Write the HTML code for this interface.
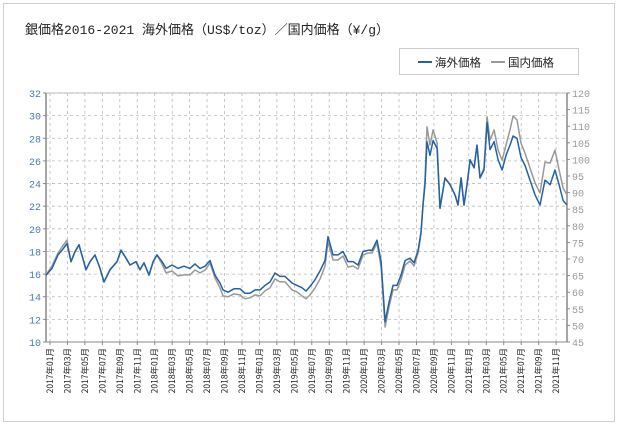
<!DOCTYPE html>
<html><head><meta charset="utf-8">
<style>
html,body{margin:0;padding:0;background:#fff;}
svg{display:block;font-family:"Liberation Mono","Noto Sans CJK JP",monospace;}
</style></head>
<body>
<svg id="chart" width="619" height="426" viewBox="0 0 619 426" xmlns="http://www.w3.org/2000/svg">
<rect x="3.5" y="3.5" width="611" height="418" fill="#fff" stroke="#cfcfcf"/>
<text x="25" y="34" font-size="13" fill="#222" font-family="'Liberation Mono','Noto Sans CJK JP',monospace">銀価格2016-2021 海外価格（US$/toz）／国内価格（¥/g）</text>
<g>
<rect x="399.5" y="48.5" width="179" height="26" fill="#fff" stroke="#ccc"/>
<g>
<line x1="418" y1="62" x2="432" y2="62" stroke="#2462a4" stroke-width="2"/>
<text x="435" y="66.5" font-size="11.5" fill="#222" font-family="'Noto Sans CJK JP',sans-serif">海外価格</text>
</g>
<g>
<line x1="491" y1="62" x2="505" y2="62" stroke="#999" stroke-width="2"/>
<text x="508" y="66.5" font-size="11.5" fill="#222" font-family="'Noto Sans CJK JP',sans-serif">国内価格</text>
</g>
</g>
<g id="grid"></g>
<g id="axes"></g>
<g id="series"></g>
</svg>
<script>
const months=[-0.46,0.23,0.92,1.38,1.95,2.41,2.87,3.32,4.13,4.58,5.16,5.73,6.19,6.88,7.68,8.14,8.71,9.17,9.86,10.32,10.77,11.35,11.81,12.26,12.84,13.3,13.98,14.67,15.36,16.05,16.62,17.19,17.77,18.34,18.91,19.48,19.83,20.4,21.09,21.78,22.35,22.92,23.5,24.07,24.64,25.21,25.79,26.36,26.93,27.74,28.31,28.88,29.34,29.8,30.37,30.95,31.52,31.86,32.44,33.01,33.58,34.15,34.73,35.3,35.87,36.45,36.91,37.48,37.94,38.4,38.85,39.31,39.77,40.23,40.69,41.26,41.72,42.18,42.52,42.75,42.98,43.21,43.55,43.9,44.36,44.7,45.27,45.85,46.42,46.76,47.11,47.45,47.79,48.14,48.6,48.94,49.28,49.74,50.09,50.43,50.89,51.35,51.81,52.26,52.72,53.07,53.52,53.98,54.44,55.01,55.59,56.16,56.73,57.31,57.88,58.34,58.8,59.25];
const overseas=[15.9,16.5,17.7,18.1,18.7,17.1,18.0,18.6,16.4,17.1,17.7,16.5,15.3,16.4,17.1,18.1,17.4,16.8,17.1,16.4,17.0,15.9,17.1,17.7,17.1,16.5,16.8,16.5,16.7,16.5,16.9,16.5,16.7,17.2,15.9,15.2,14.6,14.4,14.7,14.7,14.3,14.3,14.6,14.6,15.0,15.3,16.1,15.8,15.8,15.2,15.0,14.8,14.5,14.9,15.5,16.3,17.2,19.3,17.7,17.7,18.0,17.1,17.1,16.8,18.0,18.1,18.1,19.0,17.1,11.8,13.5,15.0,15.0,15.9,17.2,17.4,17.0,18.1,19.7,22.1,23.9,27.7,26.5,27.8,27.1,21.8,24.5,23.9,23.0,22.1,24.5,22.1,23.9,26.1,25.4,27.4,24.5,25.2,29.4,27.0,27.7,26.1,25.2,26.5,27.4,28.2,28.0,26.3,25.6,24.3,23.0,22.1,24.3,23.9,25.2,23.9,22.5,22.1];
const domestic=[65.2,67.9,71.8,73.6,75.7,69.1,72.1,74.2,66.7,69.1,71.2,67.3,63.1,66.7,69.1,72.7,70.3,68.2,69.1,66.7,68.8,65.2,69.1,71.2,68.5,65.8,66.4,64.9,65.2,65.2,66.7,65.8,66.7,68.8,64.3,61.3,58.9,58.6,59.5,59.2,58.0,58.3,59.2,58.9,60.4,61.3,64.0,63.1,63.1,60.7,60.1,58.9,58.0,59.2,61.3,64.0,67.9,75.1,69.7,69.7,70.9,67.6,67.9,67.0,71.2,71.8,71.8,74.8,67.6,49.5,55.5,60.7,60.7,63.7,68.2,69.4,67.9,71.8,77.5,86.3,93.8,109.8,104.3,108.9,104.9,85.4,94.4,92.3,89.3,86.3,94.4,86.3,92.3,99.8,97.4,104.3,94.4,97.4,112.8,105.8,108.9,102.8,99.8,104.3,108.9,113.1,111.9,104.9,101.9,97.4,92.9,89.9,99.2,98.9,102.8,96.8,91.4,89.3];
const xTickLabels=["2017年01月","2017年03月","2017年05月","2017年07月","2017年09月","2017年11月","2018年01月","2018年03月","2018年05月","2018年07月","2018年09月","2018年11月","2019年01月","2019年03月","2019年05月","2019年07月","2019年09月","2019年11月","2020年01月","2020年03月","2020年05月","2020年07月","2020年09月","2020年11月","2021年01月","2021年03月","2021年05月","2021年07月","2021年09月","2021年11月"];
const leftTicks=[10,12,14,16,18,20,22,24,26,28,30,32];
const rightTicks=[45,50,55,60,65,70,75,80,85,90,95,100,105,110,115,120];

const NS="http://www.w3.org/2000/svg";
const X0=46,X1=567,Y0=342,Y1=93;
const tMax=59.25;
function xScale(t){return 50+t*(X1-50)/(tMax);}
function yL(v){return Y0-(v-10)*(Y0-Y1)/22;}
function yR(v){return Y0-(v-45)*(Y0-Y1)/75;}
function mk(tag,attrs,parent){const e=document.createElementNS(NS,tag);for(const k in attrs)e.setAttribute(k,attrs[k]);parent.appendChild(e);return e;}
const grid=document.getElementById('grid'),axes=document.getElementById('axes'),series=document.getElementById('series');

leftTicks.forEach(v=>{
  const y=yL(v);
  const g=mk('line',{x1:X0,x2:X1,y1:y,y2:y,stroke:'#bbb','stroke-dasharray':'3,3','stroke-width':0.8},grid);
  
  
  const t=mk('text',{x:X0-5,y:y+4,'text-anchor':'end','font-size':10,fill:'#4a78b0'},axes);
  
  
  t.textContent=v;
  mk('line',{x1:X0-3,x2:X0,y1:y,y2:y,stroke:'#888'},axes);
});
rightTicks.forEach(v=>{
  const y=yR(v);
  const t=mk('text',{x:X1+5,y:y+4,'font-size':10,fill:'#999'},axes);
  
  
  t.textContent=v;
  mk('line',{x1:X1,x2:X1+3,y1:y,y2:y,stroke:'#888'},axes);
});
xTickLabels.forEach((lab,i)=>{
  const x=xScale(i*2);
  const g=mk('line',{x1:x,x2:x,y1:Y1,y2:Y0,stroke:'#bbb','stroke-dasharray':'3,3','stroke-width':0.8},grid);
  
  
  mk('line',{x1:x,x2:x,y1:Y0,y2:Y0+3,stroke:'#888'},axes);
  const t=mk('text',{x:0,y:0,'text-anchor':'end','font-size':8.5,fill:'#222',transform:`translate(${x+3},${Y0+6}) rotate(-90)`,'font-family':"'Noto Sans CJK JP',sans-serif"},axes);
  
  
  t.textContent=lab;
});
const la=mk('line',{x1:X0,x2:X0,y1:Y1,y2:Y0,stroke:'#888','stroke-width':1.5},axes);


const ra=mk('line',{x1:X1,x2:X1,y1:Y1,y2:Y0,stroke:'#888','stroke-width':1.5},axes);


const ba=mk('line',{x1:X0,x2:X1,y1:Y0,y2:Y0,stroke:'#888','stroke-width':1},axes);


const ta=mk('line',{x1:X0,x2:X1,y1:Y1,y2:Y1,stroke:'#aaa','stroke-width':0.8},axes);



const dPts=months.map((t,i)=>xScale(t).toFixed(1)+','+yR(domestic[i]).toFixed(1)).join(' ');
const dl=mk('polyline',{points:dPts,fill:'none',stroke:'#999','stroke-width':1.5,'stroke-linejoin':'round'},series);


const oPts=months.map((t,i)=>xScale(t).toFixed(1)+','+yL(overseas[i]).toFixed(1)).join(' ');
const ol=mk('polyline',{points:oPts,fill:'none',stroke:'#2462a4','stroke-width':1.5,'stroke-linejoin':'round'},series);


</script>
</body></html>
